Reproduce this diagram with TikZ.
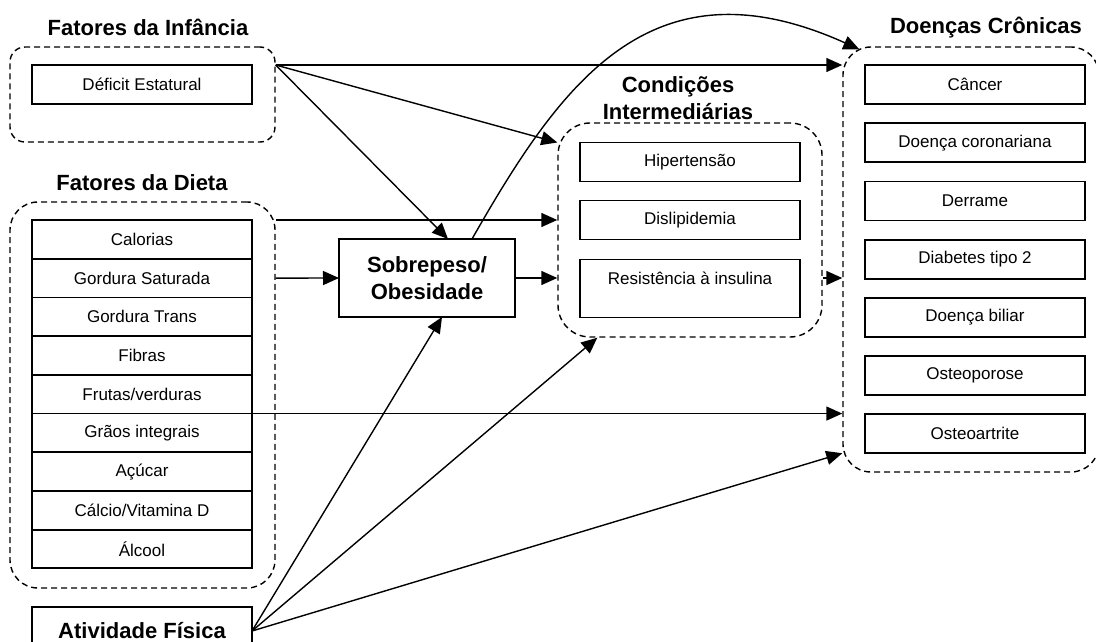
\documentclass[tikz,border=0pt]{standalone}
\usepackage{fontspec}
\setmainfont{Liberation Sans}
\usetikzlibrary{arrows.meta, positioning, calc}

\begin{document}
\begin{tikzpicture}[
        x=1pt, y=1pt,
        item/.style={
            rectangle,
            draw,
            line width=1.8pt,
            outer sep=0pt,
            minimum width=220pt,
            minimum height=39pt,
            inner sep=2pt,
            align=center,
            font=\fontsize{17}{20}\selectfont
        },
        title/.style={align=center, font=\bfseries\fontsize{22}{27}\selectfont},
        group/.style={
            rectangle,
            draw,
            dash pattern=on 6pt off 4pt,
            line width=1.4pt,
            rounded corners=#1
        },
        group/.default=28pt,
        arrow/.style={-{Triangle[length=16pt, width=14pt]}, line width=1.4pt}
    ]
        \useasboundingbox (0,0) rectangle (1096,-642);

        % Groups
        \node[group=15pt, minimum width=265pt, minimum height=95pt] (infancia) at (142.5,-94.5) {};
        \node[group, minimum width=265pt, minimum height=386pt] (dieta) at (142.5,-395) {};
        \node[group=32pt, minimum width=264pt, minimum height=214pt] (interm) at (690,-230) {};
        \node[group, minimum width=256pt, minimum height=425pt] (cronicas) at (971,-259.5) {};

        % Titles
        \node[title] (t-infancia) at (148,-27) {Fatores da Infância};
        \node[title] (t-dieta) at (142,-183) {Fatores da Dieta};
        \node[title] (t-interm) at (678,-98) {Condições\\Intermediárias};
        \node[title] (t-cronicas) at (986,-28) {Doenças Crônicas};

        % Nodes
        \node[item] (deficit) at (142,-84.5) {Déficit Estatural};

        \node[item, minimum height=38.7pt] (calorias) at (142,-239.4) {Calorias};
        \foreach \name/\txt [remember=\name as \prev (initially calorias)] in
            {gsat/{Gordura Saturada}, gtrans/{Gordura Trans}, fibras/Fibras,
             frutas/{Frutas/verduras}, graos/{Grãos integrais}, acucar/Açúcar,
             calcio/{Cálcio/Vitamina D}, alcool/Álcool}
            \node[item, minimum height=38.7pt, below=0pt of \prev] (\name) {\txt};

        \node[item, title, minimum width=176pt, minimum height=78pt] (sobre) at (427,-278) {Sobrepeso/\\Obesidade};

        \node[item] (hiper) at (690,-162) {Hipertensão};
        \node[item, below=19pt of hiper] (dislip) {Dislipidemia};
        \node[item, minimum height=58pt, below=20pt of dislip] (resist) {Resistência à insulina\\~};

        \node[item] (cancer) at (975,-84.5) {Câncer};
        \node[item, below=19.2pt of cancer] (coron) {Doença coronariana};
        \node[item, below=19.2pt of coron] (derrame) {Derrame};
        \node[item, below=19.2pt of derrame] (diabetes) {Diabetes tipo 2};
        \node[item, below=19.2pt of diabetes] (biliar) {Doença biliar};
        \node[item, below=19.2pt of biliar] (osteop) {Osteoporose};
        \node[item, below=19.2pt of osteop] (osteoa) {Osteoartrite};

        \node[item, title, minimum height=48pt] (ativ) at (142,-631) {Atividade Física};

        % Arrows
        \draw[arrow] (deficit.north -| infancia.east) -- (cancer.north -| cronicas.west);
        \draw[arrow] (deficit.north -| infancia.east) -- (hiper.north -| interm.west);
        \draw[arrow] (deficit.north -| infancia.east) -- ([xshift=21pt]sobre.north);

        \draw[arrow] ([xshift=45pt]sobre.north) .. controls (560,-85) and (650,45) .. ([shift={(17pt,-3pt)}]cronicas.north west);

        \draw[arrow] (dislip -| dieta.east) -- (dislip -| interm.west);
        \draw[arrow] (gsat -| dieta.east) -- (sobre.west);
        \draw[arrow] (sobre.east) -- (sobre.east -| interm.west);
        \draw[arrow] (sobre.east -| interm.east) -- (sobre.east -| cronicas.west);
        \draw[arrow] (frutas.south east) -- (frutas.south -| cronicas.west);

        \draw[arrow] (ativ.east) -- ([xshift=15pt]sobre.south);
        \draw[arrow] (ativ.east) -- ([xshift=40pt]interm.south west);
        \draw[arrow] (ativ.east) -- (osteoa.south -| cronicas.west);

    \end{tikzpicture}
\end{document}
